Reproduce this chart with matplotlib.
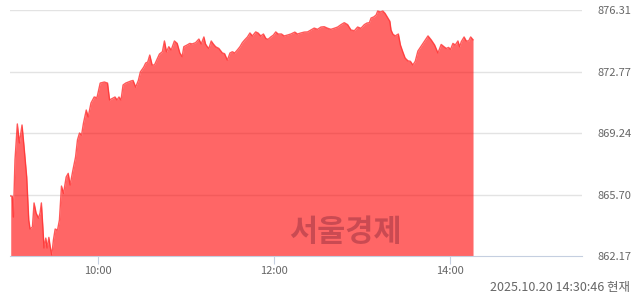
import matplotlib
matplotlib.use("Agg")
from matplotlib import pyplot as plt

plt.rcParams['font.family'] = ['Noto Sans CJK KR', 'DejaVu Sans']

# minutes after 09:00 and index value
minutes = [0.5, 1.6, 2.3, 3.4, 5.0, 6.4, 8.2, 9.6, 11.4, 12.8, 13.7, 15.3, 16.4, 17.8,
           19.4, 20.5, 21.4, 22.4, 23.2, 24.4, 25.3, 26.5, 27.4, 28.5, 29.6, 30.8, 32.4,
           33.7, 35.1, 36.5, 38.3, 39.7, 41.0, 42.9, 44.7, 46.0, 47.4, 48.8, 50.1, 52.0,
           53.3, 55.2, 57.4, 59.3, 61.5, 64.3, 66.5, 67.9, 69.7, 71.6, 73.0, 74.3, 75.7,
           77.1, 78.9, 80.7, 82.5, 83.9, 85.7, 87.5, 88.9, 91.2, 92.5, 93.9, 95.3, 96.9,
           98.5, 100.3, 101.9, 103.9, 105.3, 106.7, 108.3, 109.9, 112.1, 114.0, 115.8,
           117.4, 118.5, 120.8, 122.6, 124.2, 126.5, 128.8, 130.4, 132.2, 133.3, 134.5,
           135.6, 137.2, 138.6, 140.2, 142.4, 144.8, 146.3, 148.2, 150.0, 151.6, 153.2,
           155.0, 156.8, 158.4, 160.0, 161.9, 163.6, 165.3, 167.5, 169.1, 171.0, 172.8,
           174.4, 175.9, 177.8, 179.6, 181.2, 182.8, 185.1, 186.9, 189.2, 191.5, 194.2,
           196.0, 198.3, 200.6, 202.9, 205.1, 207.4, 209.7, 212.0, 214.2, 216.6, 218.8,
           221.1, 223.4, 225.7, 227.9, 230.2, 232.5, 234.8, 237.0, 239.3, 241.6, 243.4,
           245.0, 246.2, 248.0, 249.6, 250.7, 252.6, 254.2, 255.7, 257.6, 259.0, 259.8,
           261.0, 262.6, 264.8, 266.2, 267.8, 269.4, 271.3, 273.0, 274.7, 276.3, 278.1,
           280.4, 282.7, 285.0, 287.2, 289.5, 291.8, 294.0, 295.9, 297.5, 299.0, 300.4,
           302.0, 303.6, 305.4, 306.6, 307.7, 309.6, 311.1, 312.7, 314.1, 315.7]
values = [865.62, 865.60, 864.41, 867.69, 869.76, 868.67, 869.70, 868.44, 866.71, 864.24,
          863.72, 863.84, 865.22, 864.64, 864.35, 864.64, 865.22, 863.84, 862.63, 863.20,
          862.63, 863.24, 862.71, 862.23, 863.09, 863.72, 863.66, 864.24, 866.19, 865.77,
          866.71, 866.92, 866.25, 867.11, 867.86, 868.84, 869.24, 869.12, 869.81, 870.56,
          870.16, 870.96, 871.31, 871.27, 872.11, 872.17, 872.11, 871.14, 871.22, 871.31,
          871.14, 871.31, 871.14, 872.00, 872.11, 872.17, 872.23, 872.26, 871.88, 872.26,
          872.75, 873.03, 873.26, 873.32, 873.72, 873.15, 873.15, 873.49, 873.78, 873.91,
          874.53, 873.91, 874.20, 874.01, 874.53, 874.39, 873.84, 873.63, 874.20, 874.30,
          874.39, 874.36, 874.43, 874.64, 874.36, 874.76, 874.36, 874.20, 874.10, 874.53,
          874.36, 874.20, 874.10, 873.84, 873.80, 873.43, 873.84, 873.91, 873.84, 874.01,
          874.20, 874.43, 874.59, 874.76, 874.99, 874.82, 875.05, 874.99, 874.82, 874.93,
          874.68, 874.62, 874.76, 874.87, 875.05, 874.93, 874.93, 874.82, 874.87, 874.93,
          875.04, 874.93, 874.99, 875.04, 875.05, 875.16, 875.27, 875.20, 875.33, 875.35,
          875.26, 875.20, 875.26, 875.33, 875.47, 875.58, 875.47, 875.16, 875.12, 875.33,
          875.26, 875.47, 875.56, 875.58, 875.85, 875.91, 876.02, 876.25, 876.20, 876.25,
          876.12, 875.85, 875.66, 875.16, 874.93, 874.82, 874.93, 874.30, 873.91, 873.55,
          873.39, 873.36, 873.15, 873.36, 873.95, 874.24, 874.53, 874.82, 874.59, 874.30,
          873.84, 874.33, 874.20, 874.10, 874.16, 874.05, 874.39, 874.30, 874.53, 874.20,
          874.49, 874.76, 874.53, 874.53, 874.76, 874.60]

y_ticks = [862.17, 865.70, 869.24, 872.77, 876.31]
x_ticks = [60, 180, 300]
x_labels = ["10:00", "12:00", "14:00"]
stamp = "2025.10.20 14:30:46 현재"
watermark = "서울경제"

fig = plt.figure(figsize=(6.4, 2.94), dpi=100)
ax = fig.add_axes([10 / 640, 1 - 256 / 294, 572 / 640, 246 / 294])

ax.set_xlim(0, 390)
ax.set_ylim(y_ticks[0], y_ticks[-1])

# grid under the fill so it shows through faintly
for yv in y_ticks[1:]:
    ax.axhline(yv, color='#e3e3e3', lw=1, zorder=1)

ax.fill_between(minutes, values, y_ticks[0], color='#ff0000', alpha=0.6, lw=0, zorder=2)
ax.plot(minutes, values, color='#ff3030', lw=1, alpha=0.8, zorder=3)

for s in ['top', 'left', 'right']:
    ax.spines[s].set_visible(False)
ax.spines['bottom'].set_color('#c5cfe0')
ax.spines['bottom'].set_zorder(4)

ax.set_xticks(x_ticks)
ax.set_xticklabels(x_labels)
ax.tick_params(axis='x', length=6, color='#c5cfe0', labelcolor='#666666', labelsize=8, pad=1)

ax.yaxis.tick_right()
ax.set_yticks(y_ticks)
ax.set_yticklabels([f"{v:.2f}" for v in y_ticks])
ax.tick_params(axis='y', length=0, labelcolor='#666666', labelsize=8, pad=11)

# watermark sits in figure pixels, not data
fig.text(345 / 640, 1 - 232 / 294, watermark, fontsize=22, fontweight='bold', color='#8b2a3a',
         alpha=0.45, ha='center', va='center', zorder=5)

fig.text(630 / 640, 1 - 287 / 294, stamp, fontsize=9, color='#666666', ha='right', va='center')

fig.savefig("out.png", dpi=100)
